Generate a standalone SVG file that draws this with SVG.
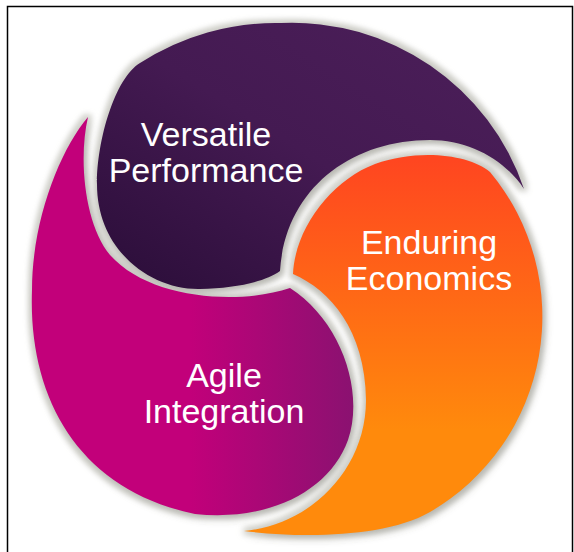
<svg xmlns="http://www.w3.org/2000/svg" xmlns:xlink="http://www.w3.org/1999/xlink" width="574" height="552" viewBox="0 0 574 552">
<defs>
<style>
.lbl{font-family:"Liberation Sans",Arial,sans-serif;font-size:34px;fill:#ffffff;text-anchor:middle}
.shadow{fill:#000000;filter:url(#sh)}
</style>
<linearGradient id="gP" x1="1" y1="0" x2="0" y2="1">
<stop offset="0" stop-color="#4c1f5a"/>
<stop offset="0.5" stop-color="#441a52"/>
<stop offset="1" stop-color="#2a0d38"/>
</linearGradient>
<linearGradient id="gM" gradientUnits="userSpaceOnUse" x1="190" y1="0" x2="360" y2="0">
<stop offset="0" stop-color="#c2007a"/>
<stop offset="1" stop-color="#881270"/>
</linearGradient>
<linearGradient id="gO" gradientUnits="userSpaceOnUse" x1="0" y1="160" x2="0" y2="430">
<stop offset="0" stop-color="#ff4620"/>
<stop offset="1" stop-color="#ff8a0c"/>
</linearGradient>
<filter id="sh" filterUnits="userSpaceOnUse" x="0" y="0" width="574" height="552">
<feMorphology in="SourceAlpha" operator="dilate" radius="4" result="d"/>
<feGaussianBlur in="d" stdDeviation="2.5" result="db"/>
<feFlood flood-color="#cfcfc8" flood-opacity="0.85"/>
<feComposite in2="db" operator="in" result="halo"/>
<feGaussianBlur in="SourceAlpha" stdDeviation="4.5"/>
<feOffset dx="2" dy="3" result="b"/>
<feFlood flood-color="#303028" flood-opacity="0.35"/>
<feComposite in2="b" operator="in" result="s"/>
<feMerge><feMergeNode in="halo"/><feMergeNode in="s"/></feMerge>
</filter>
<path id="pM" d="M 88,117 C 60,150 32,220 32,290 C 28,400 80,490 195,514 C 270,522 330,490 348,440 C 365,390 340,320 290,288 C 240,305 150,300 110,255 C 85,225 78,160 88,117 Z"/>
<path id="pO" d="M 244,531 C 300,538 385,538 430,512 A 226 226 0 0 0 490,172 C 470,155 420,148 375,164 C 332,180 295,228 293,274 C 330,290 365,330 366,400 C 366,470 310,525 244,531 Z"/>
<path id="pP" d="M 524,189 A 245 245 0 0 0 281,23 A 250 250 0 0 0 140,63 C 115,78 97,140 97,184 C 97,250 150,290 200,289 C 235,288 265,282 280,271 C 285,190 350,140 430,140 C 470,140 505,160 524,189 Z"/>
</defs>
<rect x="7.5" y="6.5" width="565" height="550" fill="#ffffff" stroke="#000000" stroke-width="1.5"/>
<g id="connectors"></g>
<g id="shadows">
<use xlink:href="#pM" class="shadow"/>
<use xlink:href="#pO" class="shadow"/>
<use xlink:href="#pP" class="shadow"/>
</g>
<g id="agile-integration">
<use xlink:href="#pM" fill="url(#gM)"/>
<text class="lbl" x="224" y="387">Agile</text>
<text class="lbl" x="224" y="423">Integration</text>
</g>
<g id="enduring-economics">
<use xlink:href="#pO" fill="url(#gO)"/>
<text class="lbl" x="429" y="254">Enduring</text>
<text class="lbl" x="429" y="290">Economics</text>
</g>
<g id="versatile-performance">
<use xlink:href="#pP" fill="url(#gP)"/>
<text class="lbl" x="206" y="146">Versatile</text>
<text class="lbl" x="206" y="182">Performance</text>
</g>
</svg>
